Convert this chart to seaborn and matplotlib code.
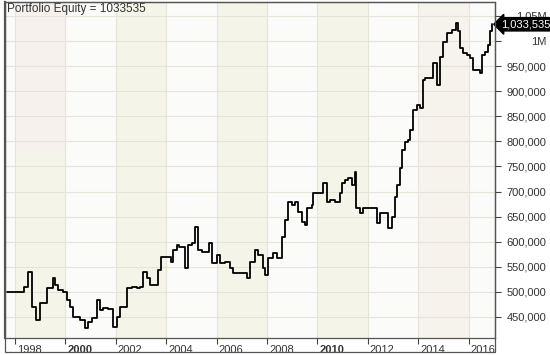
import numpy as np
import pandas as pd
import seaborn as sns
import matplotlib
matplotlib.use("Agg")
import matplotlib.pyplot as plt
import matplotlib.transforms as mtransforms
from matplotlib.patches import Rectangle
from matplotlib.ticker import FuncFormatter


# equity curve (decimal year, equity)
years = [1997.68, 1998.32, 1998.36, 1998.50, 1998.66, 1998.83, 1998.99, 1999.26,
         1999.50, 1999.59, 1999.71, 1999.92, 2000.05, 2000.18, 2000.31, 2000.58,
         2000.78, 2000.90, 2001.04, 2001.24, 2001.37, 2001.49, 2001.69, 2001.89,
         2002.04, 2002.17, 2002.43, 2002.63, 2002.83, 2002.96, 2003.09, 2003.23,
         2003.36, 2003.56, 2003.69, 2003.79, 2004.15, 2004.19, 2004.28, 2004.42,
         2004.50, 2004.75, 2004.87, 2005.01, 2005.14, 2005.26, 2005.41, 2005.61,
         2005.71, 2005.81, 2006.00, 2006.13, 2006.33, 2006.53, 2006.66, 2007.13,
         2007.19, 2007.33, 2007.52, 2007.65, 2007.85, 2007.92, 2008.05, 2008.25,
         2008.38, 2008.58, 2008.71, 2008.85, 2008.98, 2009.11, 2009.24, 2009.38,
         2009.51, 2009.58, 2009.77, 2009.84, 2010.10, 2010.23, 2010.37, 2010.50,
         2010.70, 2010.90, 2010.96, 2011.10, 2011.23, 2011.36, 2011.49, 2011.53,
         2011.69, 2011.82, 2012.29, 2012.35, 2012.48, 2012.75, 2012.81, 2012.95,
         2013.08, 2013.15, 2013.28, 2013.35, 2013.48, 2013.61, 2013.67, 2013.81,
         2013.94, 2014.07, 2014.20, 2014.27, 2014.47, 2014.60, 2014.73, 2014.86,
         2015.00, 2015.13, 2015.33, 2015.50, 2015.59, 2015.66, 2015.79, 2015.92,
         2016.06, 2016.19, 2016.38, 2016.45, 2016.52, 2016.65, 2016.78, 2016.85,
         2016.92]
equity = [500000, 500000, 510600, 540300, 470700, 444200, 478100, 508000,
          528000, 514000, 504000, 500600, 484000, 470700, 450700, 444000,
          427600, 440800, 447600, 484000, 464000, 467500, 465500, 430800,
          450700, 470700, 507400, 510600, 507400, 510600, 540500, 527300,
          514000, 514000, 543900, 570400, 570400, 560400, 583700, 593700,
          590300, 547900, 593700, 597700, 630200, 583700, 580400, 580400,
          597700, 557800, 573800, 557200, 560400, 547300, 537300, 537300,
          527300, 560400, 583700, 573800, 547300, 533900, 567200, 577200,
          567200, 610300, 643600, 680000, 673500, 680000, 660100, 640200,
          633600, 666900, 673500, 696800, 696800, 716700, 680000, 683400,
          680000, 696800, 716700, 723000, 726700, 713400, 739900, 666900,
          656900, 666900, 666900, 637000, 656900, 656900, 627000, 650100,
          690000, 713400, 746700, 783100, 799700, 803100, 823000, 862900,
          872900, 867000, 922700, 926100, 926100, 956000, 912800, 969200,
          999100, 1015800, 1022400, 1037000, 1019100, 986000, 976000, 972600,
          966000, 942700, 942700, 936100, 972600, 979200, 992500, 1019100,
          1033535]

tick_years = [1998, 2000, 2002, 2004, 2006, 2008, 2010, 2012, 2014, 2016]
bold_years = [2000, 2010]
band_colors = ["#f5f4e8", "#fbfbf9", "#f5f4e8", "#fbfbf9", "#f5f4e8",
               "#fbfbf9", "#f5f4e8", "#fbfbf9", "#f6f2ec", "#fbfbfa"]
y_ticks = list(range(450000, 1050001, 50000))
last_value = 1033535

df = pd.DataFrame({"year": years, "equity": equity})

sns.set_theme(style="white")
plt.rcParams["font.family"] = ["Liberation Sans", "DejaVu Sans"]

fig = plt.figure(figsize=(5.5, 3.55), dpi=100)
ax = fig.add_axes([5 / 550, 17 / 355, 490 / 550, 336 / 355])

x_lo, x_hi = 1997.60, 2017.05
ax.set_xlim(x_lo, x_hi)
ax.set_ylim(408100, 1077900)

# background bands, two years each
ax.axvspan(x_lo, 1998, color="#fbfbf9", lw=0, zorder=0)
for yr, c in zip(tick_years, band_colors):
    ax.axvspan(yr, yr + 2, color=c, lw=0, zorder=0)
ax.axvspan(1998, 2000, ymin=0.55, ymax=1, color="#f6f1ec", lw=0, zorder=0)

for v in y_ticks:
    ax.axhline(v, color="#e6e4d8", lw=0.8, zorder=1)
for yr in tick_years:
    ax.axvline(yr, color="#e6e4d8", lw=0.8, zorder=1)

sns.lineplot(data=df, x="year", y="equity", ax=ax, color="black", lw=1.3,
             drawstyle="steps-post", zorder=3)

ax.set_xlabel("")
ax.set_ylabel("")

# x axis: ticks with labels to the right of the tick
ax.set_xticks(tick_years)
ax.set_xticklabels([str(y) for y in tick_years])
ax.tick_params(axis="x", direction="out", length=4, width=0.8, color="#444444",
               pad=1, labelsize=8, labelcolor="#333333", bottom=True)
offset = mtransforms.ScaledTranslation(2 / 100, 0, fig.dpi_scale_trans)
for lab, yr in zip(ax.get_xticklabels(), tick_years):
    lab.set_ha("left")
    lab.set_transform(lab.get_transform() + offset)
    if yr in bold_years:
        lab.set_fontweight("bold")


def fmt(v, pos):
    if v == 1000000:
        return "1M"
    if v == 1050000:
        return "1.05M"
    return f"{int(v):,}"


ax.yaxis.tick_right()
ax.set_yticks(y_ticks)
ax.yaxis.set_major_formatter(FuncFormatter(fmt))
ax.tick_params(axis="y", direction="out", length=4, width=0.8, color="#444444",
               pad=33, labelsize=8, labelcolor="#333333", right=True, left=False)
for lab in ax.get_yticklabels():
    lab.set_ha("right")

for side in ["top", "left", "right", "bottom"]:
    ax.spines[side].set_color("#555555")
    ax.spines[side].set_linewidth(0.9)
ax.spines["left"].set_linewidth(1.6)

# outer frame around plot and date strip
fig.patches.append(Rectangle((5 / 550, 3 / 355), 490 / 550, 350 / 355,
                             transform=fig.transFigure, fill=False,
                             ec="#555555", lw=0.9))

ax.text(0.005, 0.997, "Portfolio Equity = 1033535", transform=ax.transAxes,
        ha="left", va="top", fontsize=8.5, color="#333333", zorder=5)

# last value tag
ax.text(1.012, last_value, f"{last_value:,}", transform=ax.get_yaxis_transform(),
        ha="left", va="center", fontsize=8, color="white", clip_on=False,
        bbox=dict(boxstyle="larrow,pad=0.15", fc="black", ec="black"), zorder=6)

plt.savefig("out.png", dpi=100)
